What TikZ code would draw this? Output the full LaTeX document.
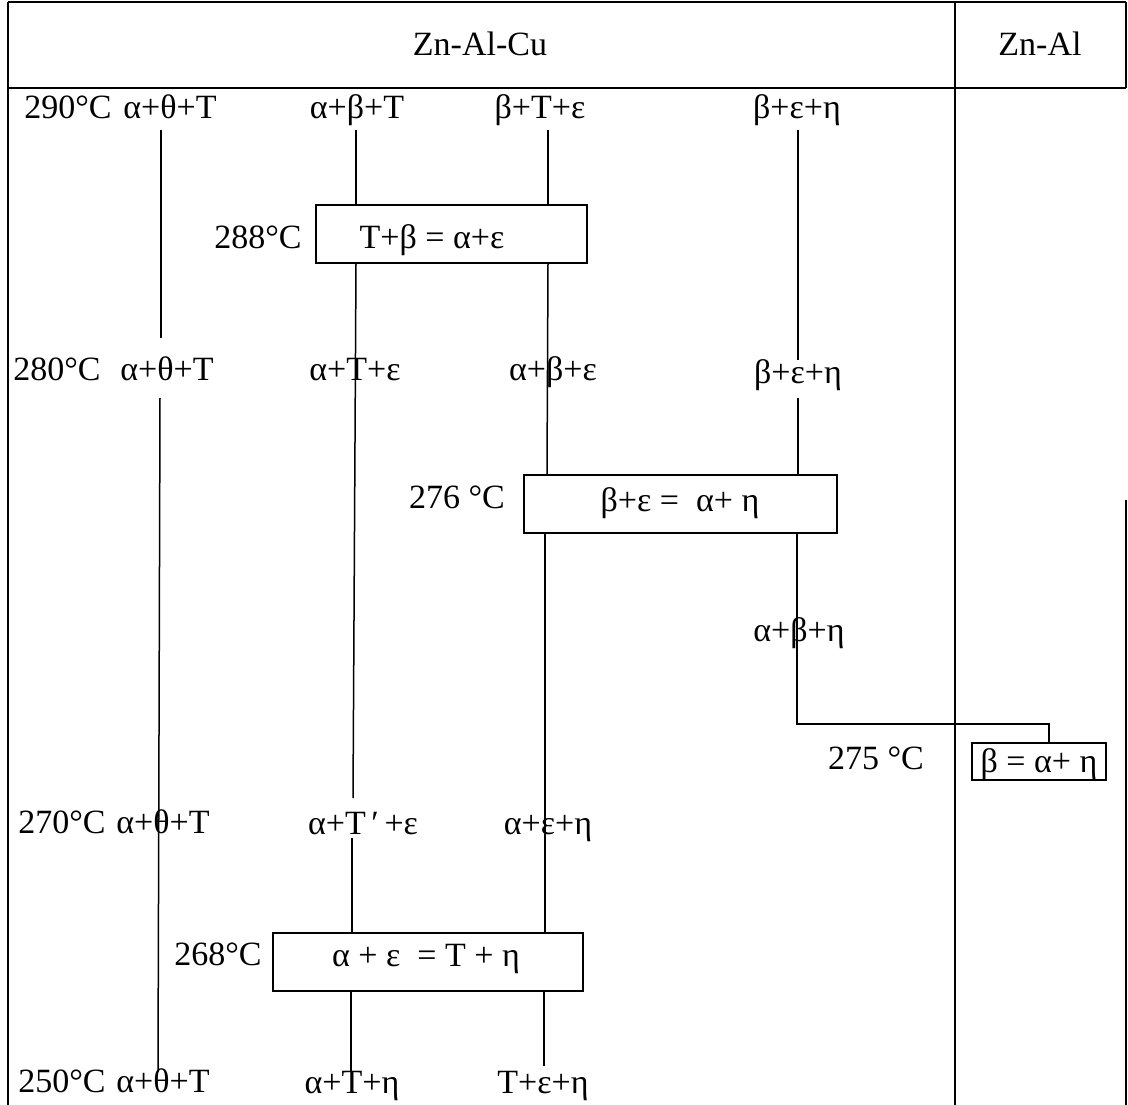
\documentclass[tikz,border=0pt]{standalone}
\usepackage{fontspec}
\setmainfont{Liberation Serif}
\begin{document}
\begin{tikzpicture}[x=1pt,y=-1pt,
  every node/.style={font=\fontsize{34}{40}\selectfont, inner sep=0pt},
  frameline/.style={line width=1.5pt},
  phaseline/.style={line width=1.5pt},
  rbox/.style={draw, line width=1.5pt, rectangle},
  lab/.style={anchor=base}]
\useasboundingbox[fill=white] (0,0) rectangle (1128,1105);

% ---------- frame ----------
\coordinate (tl) at (8,2);
\coordinate (tr) at (1126,2);
\coordinate (bl) at (8,1105);
\coordinate (hl) at (8,88);
\coordinate (hr) at (1126,88);
\coordinate (st) at (955,2);
\coordinate (sb) at (955,1105);
\coordinate (rb1) at (1126,500);
\coordinate (rb2) at (1126,1105);
\draw[frameline] (tl) -- (tr);
\draw[frameline] (tl) -- (bl);
\draw[frameline] (hl) -- (hr);
\draw[frameline] (st) -- (sb);
\draw[frameline] (tr) -- (hr);
\draw[frameline] (rb1) -- (rb2);

% ---------- header ----------
\node[lab] (h1) at (480,56) {Zn-Al-Cu};
\node[lab] (h2) at (1040,56) {Zn-Al};

% ---------- reaction boxes ----------
\node[rbox, minimum width=271pt, minimum height=58pt] (b288) at (451.5,234) {};
\node[rbox, minimum width=313pt, minimum height=58pt] (b276) at (680.5,504) {};
\node[rbox, minimum width=310pt, minimum height=58pt] (b268) at (428,962) {};
\node[rbox, minimum width=134pt, minimum height=37pt] (b275) at (1039,761.5) {};

\node[lab] (t288) at (432,248) {T+β = α+ε};
\node[lab] (t276) at (680,511) {β+ε =\ \ α+ η};
\node[lab] (t268) at (426,966) {α + ε \ = T + η};
\node[lab] (t275) at (1039,772) {β = α+ η};

% ---------- temperatures ----------
\node[lab] (T290) at (68,119) {290°C};
\node[lab] (T280) at (57,380) {280°C};
\node[lab] (T288) at (258,248) {288°C};
\node[lab] (T276) at (457,508) {276 °C};
\node[lab] (T275) at (876,769) {275 °C};
\node[lab] (T270) at (62,833) {270°C};
\node[lab] (T268) at (218,965) {268°C};
\node[lab] (T250) at (62,1092) {250°C};

% ---------- phase fields ----------
\node[lab] (p1a) at (170,119) {α+θ+T};
\node[lab] (p2a) at (357,119) {α+β+T};
\node[lab] (p3a) at (540,119) {β+T+ε};
\node[lab] (p4a) at (797,119) {β+ε+η};

\node[lab] (p1b) at (167,380) {α+θ+T};
\node[lab] (p2b) at (355,380) {α+T+ε};
\node[lab] (p3b) at (553,380) {α+β+ε};
\node[lab] (p4b) at (798,383) {β+ε+η};

\node[lab] (p4c) at (799,641) {α+β+η};

\node[lab] (p1c) at (163,833) {α+θ+T};
\node[lab] (p2c) at (363,834) {α+T\,′\,+ε};
\node[lab] (p3c) at (548,834) {α+ε+η};

\node[lab] (p1d) at (163,1092) {α+θ+T};
\node[lab] (p2d) at (352,1093) {α+T+η};
\node[lab] (p3d) at (543,1093) {T+ε+η};

% ---------- column lines ----------
% column 1
\coordinate (c1a) at (161,130);
\coordinate (c1b) at (161,338);
\coordinate (c1c) at (160,398);
\coordinate (c1d) at (158,1072);
\draw[phaseline] (c1a) -- (c1b);
\draw[phaseline] (c1c) -- (c1d);

% column 2
\coordinate (c2a) at (356,130);
\coordinate (c2b) at (353,798);
\coordinate (c2c) at (352,838);
\coordinate (c2d) at (351,1072);
\draw[phaseline] (c2a) -- (b288.north -| c2a);
\draw[phaseline] (b288.south -| c2a) -- (c2b);
\draw[phaseline] (c2c) -- (b268.north -| c2c);
\draw[phaseline] (b268.south -| c2d) -- (c2d);

% column 3
\coordinate (c3a) at (548,130);
\coordinate (c3b) at (547,400);
\coordinate (c3c) at (545,700);
\coordinate (c3d) at (544,1066);
\draw[phaseline] (c3a) -- (b288.north -| c3a);
\draw[phaseline] (b288.south -| c3a) -- (b276.north -| c3b);
\draw[phaseline] (b276.south -| c3c) -- (b268.north -| c3c);
\draw[phaseline] (b268.south -| c3d) -- (c3d);

% column 4
\coordinate (c4a) at (798,130);
\coordinate (c4b) at (798,360);
\coordinate (c4c) at (798,398);
\coordinate (c4d) at (797,724);
\coordinate (c4e) at (1049,724);
\draw[phaseline] (c4a) -- (c4b);
\draw[phaseline] (c4c) -- (b276.north -| c4c);
\draw[phaseline] (b276.south -| c4d) -- (c4d) -- (c4e) -- (b275.north -| c4e);
\end{tikzpicture}
\end{document}
